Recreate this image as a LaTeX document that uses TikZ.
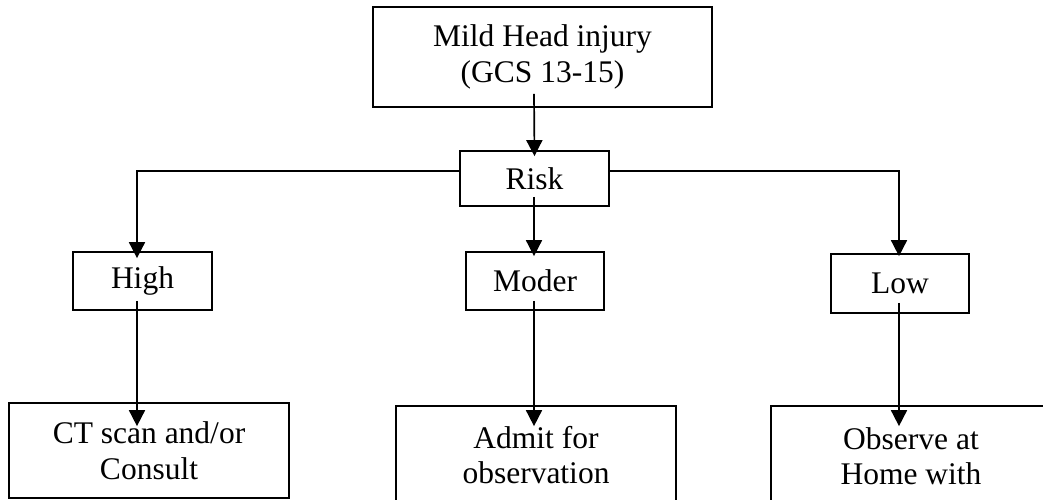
\documentclass[tikz,border=0pt]{standalone}
\usepackage{fontspec}
\setmainfont{Liberation Serif}
\usetikzlibrary{arrows.meta}
\tikzset{
  box/.style={draw, line width=1.7pt, rectangle, align=center, inner sep=0pt,
    font=\fontsize{31.5}{35.5}\selectfont},
  arr/.style={line width=1.7pt, -{Triangle[length=16pt,width=16pt]}},
}
\begin{document}
\begin{tikzpicture}[x=1pt,y=-1pt]
\clip (0,0) rectangle (1043,500);
\fill[white] (0,0) rectangle (1043,500);
\node[box, minimum width=339pt, minimum height=100pt] (top) at (542.5,57) {Mild Head injury\\(GCS 13-15)};
\node[box, minimum width=149pt, minimum height=55pt] (risk) at (534.5,178.5) {Risk};
\node[box, minimum width=139pt, minimum height=58pt] (high) at (142.5,281) {High};
\node[box, minimum width=138pt, minimum height=58pt] (moder) at (535,281) {Moder};
\node[box, minimum width=138pt, minimum height=59pt] (low) at (900,283.5) {Low};
\node[box, minimum width=280pt, minimum height=95pt] (ct) at (149,450.5) {CT scan and/or\\Consult};
\node[box, minimum width=280pt, minimum height=98pt] (admit) at (536,455) {Admit for\\observation};
\node[box, minimum width=280pt, minimum height=100pt] (obs) at (911,456) {Observe at\\Home with};

\draw[arr] ([xshift=-8.5pt,yshift=14pt]top.south) -- ([yshift=-6pt]risk.north);
\draw[arr] ([yshift=7.5pt]risk.west) -| ([xshift=-5.5pt,yshift=-7pt]high.north);
\draw[arr] ([yshift=7.5pt]risk.east) -| ([xshift=-1pt,yshift=-3pt]low.north);
\draw[arr] ([xshift=-0.5pt,yshift=10pt]risk.south) -- ([xshift=-1pt,yshift=-5pt]moder.north);
\draw[arr] ([xshift=-5.5pt,yshift=10pt]high.south) -- ([xshift=-12pt,yshift=-24pt]ct.north);
\draw[arr] ([xshift=-1pt,yshift=10pt]moder.south) -- ([xshift=-2pt,yshift=-21pt]admit.north);
\draw[arr] ([xshift=-1pt,yshift=11pt]low.south) -- ([xshift=-12pt,yshift=-21pt]obs.north);
\end{tikzpicture}
\end{document}
